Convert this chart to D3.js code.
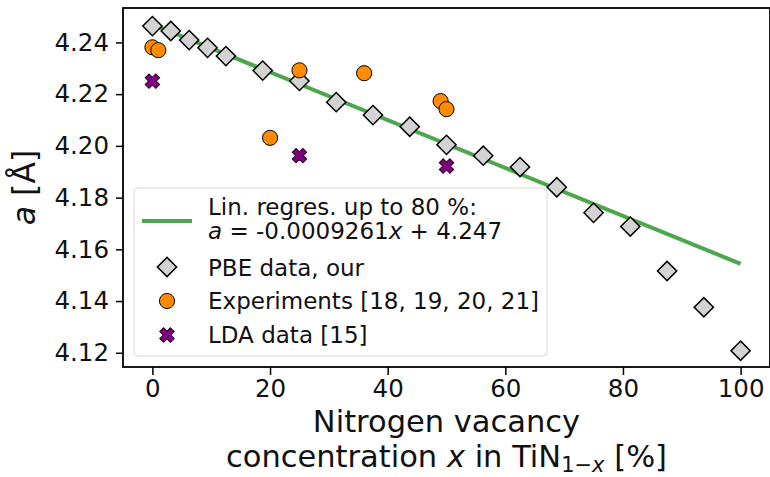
<!DOCTYPE html>
<html>
<head>
<meta charset="utf-8">
<script src="https://cdn.jsdelivr.net/npm/d3@7"></script>
<style>
  body { margin: 0; background: #fff; }
  text { font-family: "DejaVu Sans", sans-serif; fill: #111; }
</style>
</head>
<body>
<div id="chart"></div>
<script>
// PBE data (diamonds)
const pbeX = [0, 3.125, 6.25, 9.375, 12.5, 18.75, 25, 31.25, 37.5, 43.75, 50, 56.25, 62.5, 68.75, 75, 81.25, 87.5, 93.75, 100];
const pbeA = [4.2463, 4.2444, 4.2409, 4.2379, 4.2347, 4.2291, 4.2251, 4.2169, 4.2119, 4.2074, 4.2004, 4.1962, 4.1918, 4.1840, 4.1741, 4.1688, 4.1516, 4.1376, 4.1208];
// experiments (circles)
const expX = [0, 1, 20, 25, 36, 49, 50];
const expA = [4.2381, 4.2370, 4.2031, 4.2292, 4.2281, 4.2173, 4.2142];
// LDA data (X)
const ldaX = [0, 25, 50];
const ldaA = [4.2250, 4.1962, 4.1922];
// linear regression
const fitSlope = -0.0009261;
const fitIntercept = 4.247;
const fitRange = [0, 100];

const xTicks = [0, 20, 40, 60, 80, 100];
const yTicks = [4.12, 4.14, 4.16, 4.18, 4.20, 4.22, 4.24];

const W = 770, H = 477;
const mLeft = 123, mRight = 770, mTop = 8, mBottom = 367;

const svg = d3.select("#chart").append("svg")
  .attr("width", W).attr("height", H);

const x = d3.scaleLinear().domain([-5, 105]).range([mLeft, mRight]);
const y = d3.scaleLinear().domain([4.1145, 4.2533]).range([mBottom, mTop]);

// regression line
const fitPts = fitRange.map(v => [v, fitSlope * v + fitIntercept]);
svg.append("path")
  .attr("d", d3.line().x(d => x(d[0])).y(d => y(d[1]))(fitPts))
  .attr("fill", "none")
  .attr("stroke", "#4da64d")
  .attr("stroke-width", 4);

// marker shapes
const diamond = d3.symbol().type(d3.symbolSquare).size(185);
const circle = d3.symbol().type(d3.symbolCircle).size(180);
function xMarker(r) {
  // filled X: plus shape rotated 45deg
  const w = r * 0.36, L = r;
  const pts = [[-w, -L], [w, -L], [w, -w], [L, -w], [L, w], [w, w], [w, L], [-w, L], [-w, w], [-L, w], [-L, -w], [-w, -w]];
  return "M" + pts.map(p => p.join(",")).join("L") + "Z";
}

svg.selectAll(".pbe")
  .data(d3.zip(pbeX, pbeA))
  .join("path")
  .attr("class", "pbe")
  .attr("d", diamond)
  .attr("transform", d => `translate(${x(d[0])},${y(d[1])}) rotate(45)`)
  .attr("fill", "#d3d3d3")
  .attr("stroke", "#000")
  .attr("stroke-width", 1.5);

svg.selectAll(".exp")
  .data(d3.zip(expX, expA))
  .join("path")
  .attr("class", "exp")
  .attr("d", circle)
  .attr("transform", d => `translate(${x(d[0])},${y(d[1])})`)
  .attr("fill", "#ff8c00")
  .attr("stroke", "#000")
  .attr("stroke-width", 1);

svg.selectAll(".lda")
  .data(d3.zip(ldaX, ldaA))
  .join("path")
  .attr("class", "lda")
  .attr("d", xMarker(7.5))
  .attr("transform", d => `translate(${x(d[0])},${y(d[1])}) rotate(45)`)
  .attr("fill", "#800080")
  .attr("stroke", "#2a002a")
  .attr("stroke-width", 1);

// axes
const xAxis = svg.append("g")
  .attr("transform", `translate(0,${mBottom})`)
  .call(d3.axisBottom(x).tickValues(xTicks).tickFormat(d3.format("d")).tickSize(8).tickPadding(5));
const yAxis = svg.append("g")
  .attr("transform", `translate(${mLeft},0)`)
  .call(d3.axisLeft(y).tickValues(yTicks).tickFormat(d3.format(".2f")).tickSize(7).tickPadding(7));
[xAxis, yAxis].forEach(g => {
  g.select(".domain").remove();
  g.selectAll(".tick line").attr("stroke", "#000").attr("stroke-width", 1.5);
  g.selectAll("text").attr("font-family", "DejaVu Sans").attr("font-size", 24.5).attr("fill", "#111");
});

// frame
svg.append("rect")
  .attr("x", mLeft).attr("y", mTop)
  .attr("width", mRight - mLeft).attr("height", mBottom - mTop)
  .attr("fill", "none").attr("stroke", "#000").attr("stroke-width", 1.8);

// legend
const lg = svg.append("g");
lg.append("rect")
  .attr("x", 134).attr("y", 188).attr("width", 413).attr("height", 168)
  .attr("rx", 4)
  .attr("fill", "#fff").attr("fill-opacity", 0.8)
  .attr("stroke", "#d9d9d9").attr("stroke-width", 1);
lg.append("line")
  .attr("x1", 142).attr("x2", 192).attr("y1", 221).attr("y2", 221)
  .attr("stroke", "#4da64d").attr("stroke-width", 4);
const lt = lg.append("text").attr("font-size", 23);
lt.append("tspan").attr("x", 208).attr("y", 215).text("Lin. regres. up to 80 %:");
lt.append("tspan").attr("x", 208).attr("y", 239).attr("font-style", "italic").text("a");
lt.append("tspan").text(" = -0.0009261");
lt.append("tspan").attr("font-style", "italic").text("x");
lt.append("tspan").text(" + 4.247");

lg.append("path").attr("d", diamond)
  .attr("transform", "translate(167,267) rotate(45)")
  .attr("fill", "#d3d3d3").attr("stroke", "#000").attr("stroke-width", 1.5);
lg.append("text").attr("x", 208).attr("y", 276).attr("font-size", 23).text("PBE data, our");
lg.append("path").attr("d", circle)
  .attr("transform", "translate(167,301)")
  .attr("fill", "#ff8c00").attr("stroke", "#000").attr("stroke-width", 1);
lg.append("text").attr("x", 208).attr("y", 309).attr("font-size", 23).text("Experiments [18, 19, 20, 21]");
lg.append("path").attr("d", xMarker(7.5))
  .attr("transform", "translate(167,335) rotate(45)")
  .attr("fill", "#800080").attr("stroke", "#2a002a").attr("stroke-width", 1);
lg.append("text").attr("x", 208).attr("y", 343).attr("font-size", 23).text("LDA data [15]");

// axis labels
const cx = (mLeft + mRight) / 2;
svg.append("text").attr("x", cx).attr("y", 432).attr("text-anchor", "middle")
  .attr("font-size", 30.5).text("Nitrogen vacancy");
const xl = svg.append("text").attr("x", cx).attr("y", 467).attr("text-anchor", "middle")
  .attr("font-size", 30.5);
xl.append("tspan").text("concentration ");
xl.append("tspan").attr("font-style", "italic").text("x");
xl.append("tspan").text(" in TiN");
xl.append("tspan").attr("font-size", 21).attr("dy", 4.5).text("1\u2212");
xl.append("tspan").attr("font-size", 21).attr("font-style", "italic").text("x");
xl.append("tspan").attr("dy", -4.5).text(" [%]");

const yl = svg.append("text")
  .attr("transform", `translate(35,${(mTop + mBottom) / 2}) rotate(-90)`)
  .attr("text-anchor", "middle").attr("font-size", 31.5);
yl.append("tspan").attr("font-style", "italic").text("a");
yl.append("tspan").text(" [\u00c5]");
</script>
</body>
</html>
